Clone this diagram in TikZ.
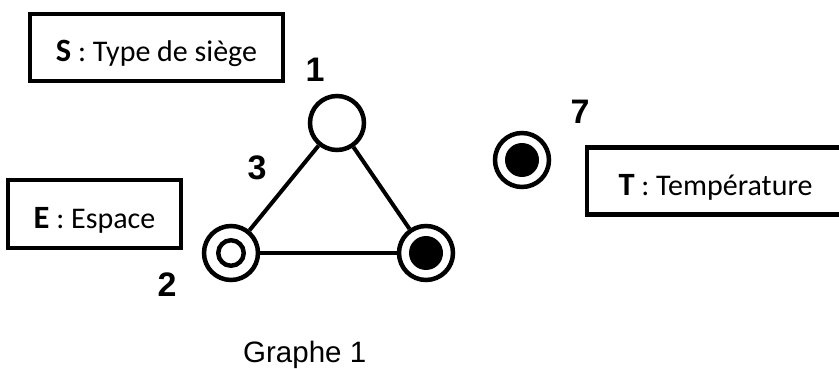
\documentclass[tikz,border=0pt]{standalone}
\usepackage{fontspec}
\setmainfont{Carlito}
\newfontfamily\arialf{Liberation Sans}
\begin{document}
\begin{tikzpicture}[x=1pt,y=-1pt,
  legend/.style={draw, line width=4.5pt, rectangle, inner sep=0pt, align=center,
    text height=32pt, text depth=4pt, font=\fontsize{30}{30}\selectfont},
  edge/.style={line width=4pt},
  ring/.style={circle, draw, line width=4.5pt, minimum size=54pt, inner sep=0pt, fill=white},
  innerring/.style={circle, draw, line width=4.5pt, minimum size=25.5pt, inner sep=0pt},
  innerdot/.style={circle, fill=black, minimum size=34pt, inner sep=0pt},
  lab/.style={font=\arialf\bfseries\fontsize{34}{34}\selectfont, inner sep=0pt},
  captiontext/.style={font=\arialf\fontsize{29.5}{29.5}\selectfont, inner sep=0pt, anchor=base west}]
\useasboundingbox (0,0) rectangle (839,369);
\clip (0,0) rectangle (839,369);
\fill[white] (0,0) rectangle (839,369);

% legend boxes
\node[legend, minimum width=253pt, minimum height=67pt] (boxS) at (156.5,47.5)
  {{\bfseries\fontsize{32.5}{32.5}\selectfont S} : Type de siège};
\node[legend, minimum width=173pt, minimum height=68pt] (boxE) at (94.5,214)
  {{\bfseries\fontsize{32.5}{32.5}\selectfont E} : Espace};
\node[legend, minimum width=257pt, minimum height=67pt] (boxT) at (715.5,181)
  {{\bfseries\fontsize{32.5}{32.5}\selectfont T} : Température};

% graph nodes
\node[ring] (n1) at (337,123) {};
\node[ring] (n2) at (231,253) {};
\node[ring] (n3) at (426,253) {};
\node[ring] (n7) at (522,160) {};
\node[innerring] (n2in) at (n2) {};
\node[innerdot] (n3in) at (n3) {};
\node[innerdot] (n7in) at (n7) {};

% edges
\draw[edge] (n1) -- (n2);
\draw[edge] (n1) -- (n3);
\draw[edge] (n2) -- (n3);

% labels
\node[lab] (l1) at (315,70) {1};
\node[lab] (l3) at (257,168) {3};
\node[lab] (l2) at (167,285) {2};
\node[lab] (l7) at (580,112) {7};

\node[captiontext] (title) at (243,362) {Graphe 1};
\end{tikzpicture}
\end{document}
